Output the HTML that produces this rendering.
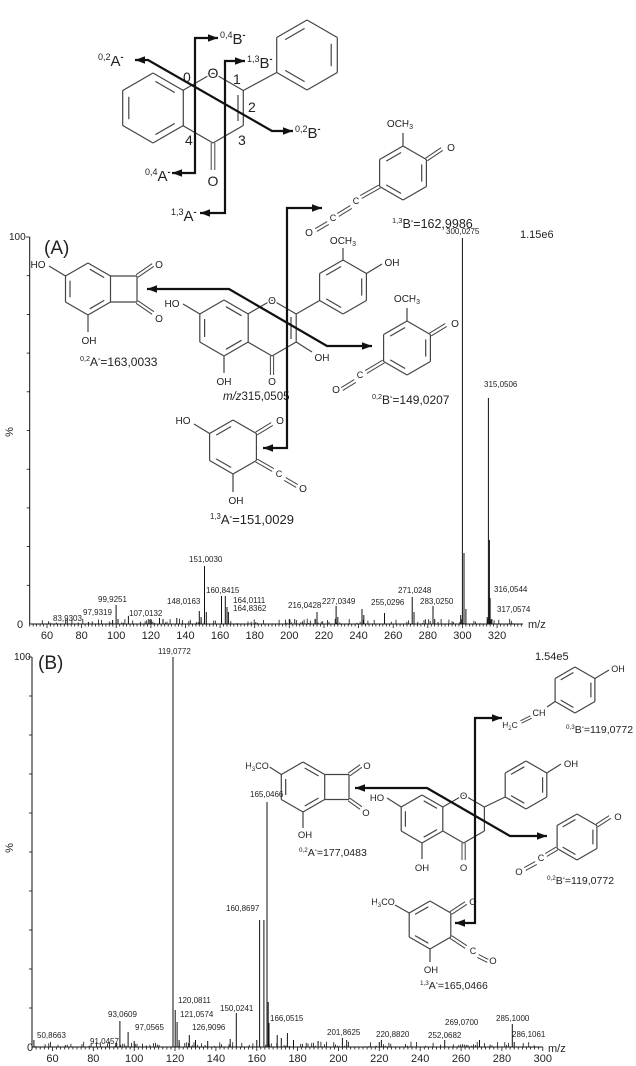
<!DOCTYPE html>
<html><head><meta charset="utf-8">
<style>
html,body{margin:0;padding:0;background:#fff;}
svg{display:block;font-family:"Liberation Sans",Arial,sans-serif;}
.at{paint-order:stroke;stroke:#fff;stroke-width:3px;}
</style></head>
<body>
<svg id="s" width="636" height="1066" viewBox="0 0 636 1066" xmlns="http://www.w3.org/2000/svg"></svg>
<script>
const S=[];
const G='#444';
function L(x1,y1,x2,y2,w,c){S.push(`<line x1="${x1.toFixed(1)}" y1="${y1.toFixed(1)}" x2="${x2.toFixed(1)}" y2="${y2.toFixed(1)}" stroke="${c||G}" stroke-width="${w||1.2}"/>`);}
function T(x,y,s,fs,anc,cls,extra){S.push(`<text x="${x}" y="${y}" font-size="${fs||10}" text-anchor="${anc||'start'}" class="${cls||''}" fill="#222" ${extra||''}>${s}</text>`);}
function A(x,y,s,fs,anc){T(x,y,s,fs||9,anc||'middle','at');}
function hex(cx,cy,r){return [-90,-30,30,90,150,210].map(d=>[cx+r*Math.cos(d*Math.PI/180),cy+r*Math.sin(d*Math.PI/180)]);}
function ring(cx,cy,r,dbl,skip){const v=hex(cx,cy,r);dbl=dbl||[];skip=skip||[];
 for(let i=0;i<6;i++){if(skip.includes(i))continue;const p=v[i],q=v[(i+1)%6];L(p[0],p[1],q[0],q[1]);}
 for(const d of dbl){const p=v[d],q=v[(d+1)%6];const k=0.8;
  const p2=[cx+(p[0]-cx)*k,cy+(p[1]-cy)*k],q2=[cx+(q[0]-cx)*k,cy+(q[1]-cy)*k];
  const a=[p2[0]+(q2[0]-p2[0])*0.1,p2[1]+(q2[1]-p2[1])*0.1],b=[p2[0]+(q2[0]-p2[0])*0.9,p2[1]+(q2[1]-p2[1])*0.9];
  L(a[0],a[1],b[0],b[1]);}
 return v;}
function DL(x1,y1,x2,y2,o){o=o||1.6;const dx=x2-x1,dy=y2-y1,l=Math.hypot(dx,dy),nx=-dy/l*o,ny=dx/l*o;L(x1+nx,y1+ny,x2+nx,y2+ny,1);L(x1-nx,y1-ny,x2-nx,y2-ny,1);}
function head(p,q){const dx=q[0]-p[0],dy=q[1]-p[1],l=Math.hypot(dx,dy),ux=dx/l,uy=dy/l,len=10,hw=3.8;
 const bx=q[0]-ux*len,by=q[1]-uy*len;
 S.push(`<polygon points="${q[0]},${q[1]} ${bx-uy*hw},${by+ux*hw} ${bx+uy*hw},${by-ux*hw}" fill="#111"/>`);}
function AR(pts){S.push(`<polyline points="${pts.map(p=>p.join(',')).join(' ')}" fill="none" stroke="#111" stroke-width="2.2"/>`);
 head(pts[1],pts[0]);head(pts[pts.length-2],pts[pts.length-1]);}
function frag(x,y,sup,lt,rest,fs){const sf=fs*0.6,d=fs*0.4;
 S.push(`<text x="${x}" y="${y}" font-size="${fs}" fill="#222"><tspan font-size="${sf}" dy="${-d}">${sup}</tspan><tspan dy="${d}">${lt}</tspan><tspan font-size="${sf}" font-weight="bold" dy="${-d}">-</tspan><tspan dy="${d}">${rest||''}</tspan></text>`);}
function sub3(x,y,pre,post,fs,anc){S.push(`<text x="${x}" y="${y}" font-size="${fs}" text-anchor="${anc||'middle'}" fill="#222" class="at">${pre}<tspan font-size="${fs*0.7}" dy="2">3</tspan><tspan dy="-2">${post}</tspan></text>`);}

// ===== Top generic flavone =====
ring(153,108,35,[0,2,4]);
{const v=hex(213,108,35);
 [[0],[1],[2],[3],[5]].forEach(e=>{const i=e[0];L(v[i][0],v[i][1],v[(i+1)%6][0],v[(i+1)%6][1]);});
 L(238,95,238,121);
 DL(213,143,213,170,1.8);A(213,186,'O',14);A(213,78,'O',14);}
ring(307,55,35,[5,1,3]);
L(243.3,90.5,276.7,72.5);
T(183,82,'0',14);T(233,84,'1',14);T(248,112,'2',14);T(238,145,'3',14);T(185,145,'4',14);

// ===== Spectrum A structures =====
// main m/z 315
ring(224,328,28,[0,2,4]);
{const v=hex(272,328,28);[0,1,2,3,5].forEach(i=>L(v[i][0],v[i][1],v[(i+1)%6][0],v[(i+1)%6][1]));
 L(291,317,291,339);}
DL(272,356,272,375);A(272,385,'O',10);A(272,304,'O',10);
L(199.8,314,183,304);A(172,307,'HO',10);
L(224,356,224,373);A(224,385,'OH',10);
L(296.2,342,312,352);A(322,361,'OH',10);
ring(343,287,27,[5,1,3]);L(296.2,314,319.6,300.5);
L(343,260,343,248);sub3(343,244,'OCH','',10);
L(366.4,273.5,382,264);A(392,266,'OH',10);
S.push(`<text x="223" y="400" font-size="11.5" fill="#222"><tspan font-style="italic">m/z</tspan>315,0505</text>`);
// 0,2A
ring(88,289,26,[0,2,4]);
L(110.5,276,137,276);L(137,276,137,302);L(137,302,110.5,302);
DL(137,276,153,265);A(159,268,'O',10);DL(137,302,153,313);A(159,322,'O',10);
L(65.5,276,49,266);A(38,268,'HO',10);
L(88,315,88,332);A(89,344,'OH',10);
frag(80,366,'0,2','A','=163,0033',12);
// 1,3B
ring(403,173,27,[5,1,3]);
DL(426.4,159.5,442,149);A(451,151,'O',10);
L(403,146,403,133);sub3(400,127,'OCH','',10);
DL(379.6,186.5,361,197);A(356,204,'C',9);DL(351,207,338,215);A(333,221,'C',9);DL(328,223,316,230);A(309,236,'O',10);
frag(392,228,'1,3','B','=162,9986',12.5);
// 0,2B
ring(407,348,27,[5,1,3]);
DL(430.4,334.5,446,325);A(455,327,'O',10);
L(407,321,407,308);sub3(407,302,'OCH','',10);
DL(383.6,361.5,366,372);A(360,378,'C',9);DL(355,381,342,389);A(336,393,'O',10);
frag(372,404,'0,2','B','=149,0207',12);
// 1,3A
ring(233,447,27,[5,3]);
DL(256.4,433.5,272,424);A(280,424,'O',10);
L(209.6,433.5,194,424);A(183,424,'HO',10);
DL(256.4,460.5,273,470);A(279,477,'C',9);DL(285,479,297,486);A(303,492,'O',10);
L(233,474,233,492);A(236,504,'OH',10);
frag(210,524,'1,3','A','=151,0029',13);

// ===== Spectrum B structures =====
// 0,3B
ring(575,690,23,[5,1,3]);
L(594.9,678.5,609,670);A(618,672,'OH',9);
L(555.1,701.5,547,707);A(539,716,'CH',9);DL(531,717,521,722,1.3);
S.push(`<text x="510" y="728" font-size="8.5" text-anchor="middle" fill="#222" class="at">H<tspan font-size="6" dy="2">2</tspan><tspan dy="-2">C</tspan></text>`);
frag(566,733,'0,3','B','=119,0772',10.5);
// main B
ring(422,819,24,[0,2,4]);
{const v=hex(463.6,819,24);[0,1,2,3,5].forEach(i=>L(v[i][0],v[i][1],v[(i+1)%6][0],v[(i+1)%6][1]));}
DL(463.6,843,463.6,860);A(463.6,871,'O',9.5);A(463.6,799,'O',9.5);
L(401.2,807,387,798);A(377,801,'HO',9.5);
L(422,843,422,859);A(422,871,'OH',9.5);
ring(526,785,24,[5,1,3]);L(484.4,807,505.2,797);
L(546.8,773,561,764);A(571,767,'OH',9.5);
// 0,2A B
ring(303,787,25,[0,2,4]);
L(324.7,774.5,349,774.5);L(349,774.5,349,799.5);L(349,799.5,324.7,799.5);
DL(349,774.5,361,766);A(367,769,'O',9.5);DL(349,799.5,361,808);A(366,816,'O',9.5);
L(281.3,774.5,268,766);sub3(257,769,'H','CO',9);
L(303,812,303,828);A(305,838,'OH',9.5);
frag(299,856,'0,2','A','=177,0483',10.5);
// 0,2B B
ring(577,837,23,[5,1,3]);
DL(596.9,825.5,610,817);A(618,820,'O',9.5);
DL(557,848.5,546,855);A(541,861,'C',9);DL(536,863,525,869);A(519,875,'O',9.5);
frag(547,884,'0,2','B','=119,0772',10.5);
// 1,3A B
ring(430,925,24,[5,3]);
DL(450.8,913,466,903);A(473,905,'O',9.5);
L(409.2,913,395,905);sub3(383,905,'H','CO',9);
DL(450.8,937,466,947);A(473,954,'C',9);DL(478,956,488,961);A(493,964,'O',9.5);
L(430,949,430,962);A(431,973,'OH',9.5);
frag(420,989,'1,3','A','=165,0466',10.5);

// ===== Arrows =====
AR([[172,173],[195,173],[195,38],[218,38]]);
AR([[200,213],[225,213],[225,61],[245,61]]);
AR([[135,60],[148,60],[272,131],[293,131]]);
frag(220,44,'0,4','B','',15);frag(145,181,'0,4','A','',15);
frag(247,68,'1,3','B','',15);frag(171,221,'1,3','A','',15);
frag(98,66,'0,2','A','',15);frag(295,138,'0,2','B','',15);
AR([[263,448],[287,448],[287,208],[322,208]]);
AR([[147,289],[229,289],[327,346],[372,346]]);
AR([[455,923],[475,923],[475,718],[502,718]]);
AR([[355,788],[427,788],[510,836],[547,836]]);

// ===== Spectrum A =====
function XA(m){return 47+(m-60)*1.731;}
function XB(m){return 173+(m-119)*2.043;}
let seed=7;function rnd(){seed=(seed*9301+49297)%233280;return seed/233280;}
function spectrum(X,base,top,m0,m1,tickStep,labs,peaks,label0){
 const x0=X(m0),x1=X(m1);
 L(x0,base,x1,base,1,'#111');L(x0,top,x0,base,1,'#111');
 for(let m=m0;m<=m1;m+=2){const big=(m%20===0);L(X(m),base,X(m),base+(big?4:2.5),0.8,'#111');}
 for(let m=60;m<=m1;m+=20){T(X(m),base+15,String(m),11,'middle');}
 for(let k=1;k<10;k++){const y=base-(base-top)*k/10;L(x0-3,y,x0,y,0.8,'#111');}
 L(x0-4,top,x0,top,0.8,'#111');
 // noise
 for(let m=m0+1;m<m1-1;m+=0.9){const h=rnd();if(h>0.55){const hh=(h-0.55)*12;L(X(m),base,X(m),base-hh,0.8,'#111');}}
 for(const p of peaks){L(X(p[0]),base,X(p[0]),p[1],1,'#111');}
 for(const l of labs){T(l[1],l[2],l[0],8,'start');}
}
spectrum(XA,624,237,50,335,2,[
 ['83,9303',53,621],['97,9319',83,615],['99,9251',98,602],['107,0132',129,616],['148,0163',167,604],['151,0030',189,562],
 ['160,8415',206,593],['164,0111',233,603],['164,8362',233,611],['216,0428',288,608],['227,0349',322,604],['255,0296',371,605],
 ['271,0248',398,593],['283,0250',420,604],['316,0544',494,592],['317,0574',497,612],['315,0506',484,387],['300,0275',446,234]
],[[83.9,622],[97.9,620],[99.9,605],[101,619],[107,616],[120,619],[125,618],[127,619],[135,618],[148,611],[149,617],[151,566],[152,612],
 [160.8,596],[163,596],[164,607],[164.8,612],[200,619],[216,612],[215,619],[227,606],[228,617],[242,609],[243,615],[255,613],
 [271,597],[272,612],[283,606],[284,619],[299,615],[300,238],[300.9,553],[302,609],[314.3,617],[315,398],[315.6,540],[316,598],[317,619]]);
T(20,628,'0',11,'middle');T(9,240,'100',10);
T(44,254,'(A)',19);
T(520,238,'1.15e6',11);
T(528,628,'m/z',11);
T(13,432,'%',11,'middle','','transform="rotate(-90 13 432)"');

// ===== Spectrum B =====
seed=31;
spectrum(XB,1047,657,50,300,2,[
 ['50,8663',37,1038],['91,0457',90,1044],['93,0609',108,1017],['97,0565',135,1030],['120,0811',178,1003],['121,0574',180,1017],
 ['126,9096',192,1030],['150,0241',220,1011],['166,0515',270,1021],['201,8625',327,1035],['220,8820',376,1037],['252,0682',428,1038],
 ['269,0700',445,1025],['285,1000',496,1021],['286,1061',512,1037],['119,0772',158,654],['165,0466',250,797],['160,8697',226,911]
],[[50.9,1040],[91,1043],[93,1021],[97,1032],[100,1041],[119,657],[120.1,1010],[121,1022],[122,1040],[127,1035],[130,1040],[136,1041],
 [147,1039],[150,1013],[160,1040],[161.4,920],[163.5,920],[165,802],[165.6,1002],[166,1023],[170,1035],[172,1038],[175,1033],[178,1040],
 [190,1041],[201.9,1038],[204,1040],[220,1042],[221,1040],[252,1040],[269,1040],[285.1,1024],[286,1042]]);
T(30,1051,'0',11,'middle');T(14,660,'100',10);
T(38,669,'(B)',19);
T(535,660,'1.54e5',11);
T(548,1052,'m/z',11);
T(13,848,'%',11,'middle','','transform="rotate(-90 13 848)"');

document.getElementById('s').innerHTML=S.join('');
</script>
</body></html>
